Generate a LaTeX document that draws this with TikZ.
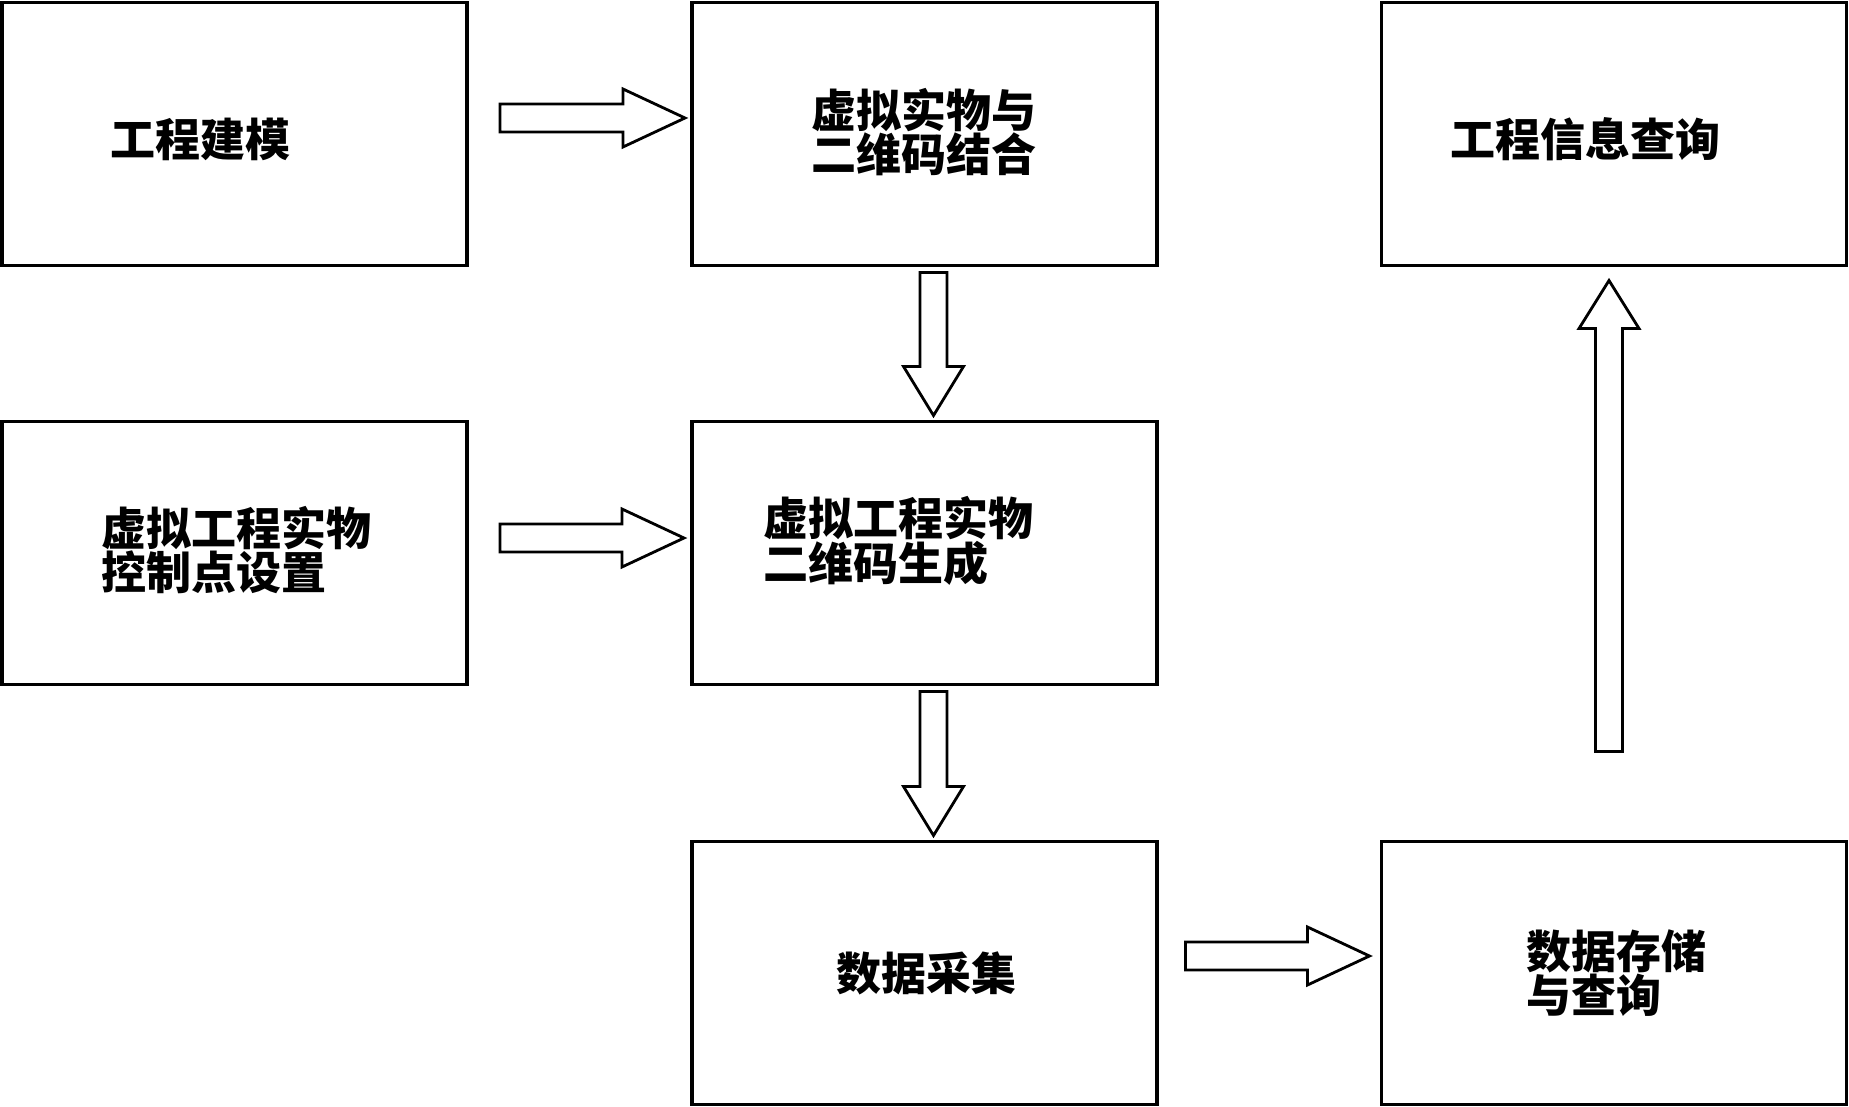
\documentclass[tikz,border=0pt]{standalone}
\usepackage{fontspec}
\newfontfamily\cjk{Noto Sans CJK SC Black}
\usetikzlibrary{calc}
\tikzset{
  box/.style={draw=black, line width=3.2pt, rectangle, inner sep=0pt, outer sep=0pt,
    minimum width=465pt, minimum height=263pt},
  lbl/.style={anchor=west, inner sep=0pt, outer sep=0pt, align=left,
    font=\cjk\fontsize{45}{42}\selectfont},
  blockarrow/.style={draw=black, line width=2.8pt, fill=white, line join=miter}
}
\newcommand\myHArrow[2]{\draw[blockarrow] let \p1=(#1), \p2=(#2) in
  (\x1,\y1+14) -- (\x2-62,\y1+14) -- (\x2-62,\y1+29) -- (\x2,\y1) -- (\x2-62,\y1-29) -- (\x2-62,\y1-14) -- (\x1,\y1-14) -- cycle;}
\newcommand\myDownArrow[2]{\draw[blockarrow] let \p1=(#1), \p2=(#2) in
  (\x1-13.5,\y1) -- (\x1-13.5,\y2+49) -- (\x1-30,\y2+49) -- (\x1,\y2) -- (\x1+30,\y2+49) -- (\x1+13.5,\y2+49) -- (\x1+13.5,\y1) -- cycle;}
\newcommand\myUpArrow[2]{\draw[blockarrow] let \p1=(#1), \p2=(#2) in
  (\x1-13.5,\y1) -- (\x1-13.5,\y2-48) -- (\x1-30,\y2-48) -- (\x1,\y2) -- (\x1+30,\y2-48) -- (\x1+13.5,\y2-48) -- (\x1+13.5,\y1) -- cycle;}
\begin{document}
\begin{tikzpicture}[x=1pt, y=-1pt]
\useasboundingbox (0,0) rectangle (1849,1107);
% boxes
\node[box] (A) at (234.5,134) {};
\node[box] (B) at (924.5,134) {};
\node[box] (C) at (1614,134) {};
\node[box] (D) at (234.5,553) {};
\node[box] (E) at (924.5,553) {};
\node[box] (F) at (924.5,973) {};
\node[box] (G) at (1614,973) {};
% labels
\node[lbl] (tA) at (110,139) {工程建模};
\node[lbl] (tB) at (811,132) {虚拟实物与\\二维码结合};
\node[lbl] (tC) at (1450,139) {工程信息查询};
\node[lbl] (tD) at (101,550) {虚拟工程实物\\控制点设置};
\node[lbl] (tE) at (763,541) {虚拟工程实物\\二维码生成};
\node[lbl] (tF) at (836,973) {数据采集};
\node[lbl] (tG) at (1526,973) {数据存储\\与查询};
% arrow anchor points
\coordinate (abT) at ($(A.east)+(33,-16)$);
\coordinate (abH) at ($(B.west)+(-7,-16)$);
\coordinate (deT) at ($(D.east)+(33,-15)$);
\coordinate (deH) at ($(E.west)+(-8,-15)$);
\coordinate (fgT) at ($(F.east)+(28.5,-17)$);
\coordinate (fgH) at ($(G.west)+(-12,-17)$);
\coordinate (beT) at ($(B.south)+(9,7)$);
\coordinate (beH) at ($(E.north)+(9,-6)$);
\coordinate (efT) at ($(E.south)+(9,7)$);
\coordinate (efH) at ($(F.north)+(9,-6)$);
\coordinate (gcT) at ($(G.north)+(-5,-90)$);
\coordinate (gcH) at ($(C.south)+(-5,15)$);
% arrows
\myHArrow{abT}{abH}
\myHArrow{deT}{deH}
\myHArrow{fgT}{fgH}
\myDownArrow{beT}{beH}
\myDownArrow{efT}{efH}
\myUpArrow{gcT}{gcH}
\end{tikzpicture}
\end{document}
